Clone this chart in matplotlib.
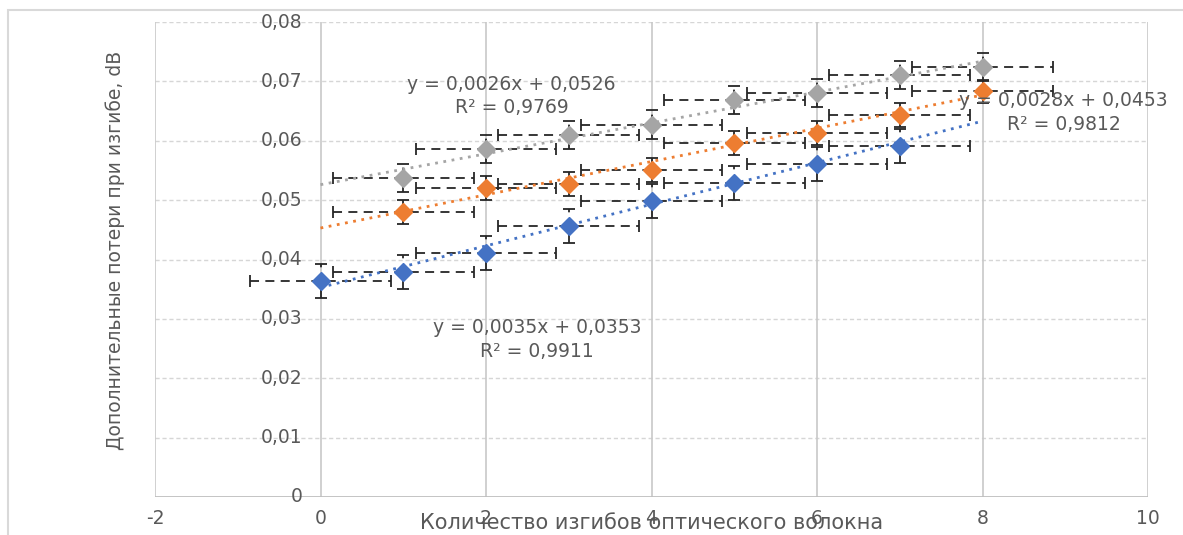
import numpy as np
import matplotlib
matplotlib.use("Agg")
import matplotlib.pyplot as plt
from matplotlib.patches import Rectangle

# ---- data ----
x_blue = [0, 1, 2, 3, 4, 5, 6, 7]
y_blue = [0.0364, 0.0379, 0.0411, 0.0456, 0.0499, 0.0529, 0.0561, 0.0591]
x_orange = [1, 2, 3, 4, 5, 6, 7, 8]
y_orange = [0.0480, 0.0520, 0.0527, 0.0551, 0.0596, 0.0613, 0.0643, 0.0683]
x_gray = [1, 2, 3, 4, 5, 6, 7, 8]
y_gray = [0.0537, 0.0586, 0.0610, 0.0627, 0.0669, 0.0680, 0.0711, 0.0724]

xerr_val = 0.85
yerr_blue = 0.0029
yerr_orange = 0.0020
yerr_gray = 0.0024

slopes = [0.0035, 0.0028, 0.0026]
intercepts = [0.0353, 0.0453, 0.0526]
trend_x = [0, 8]
eq_texts = ["y = 0,0035x + 0,0353\nR² = 0,9911",
            "y = 0,0028x + 0,0453\nR² = 0,9812",
            "y = 0,0026x + 0,0526\nR² = 0,9769"]

xticks = [-2, 0, 2, 4, 6, 8, 10]
yticks = [0, 0.01, 0.02, 0.03, 0.04, 0.05, 0.06, 0.07, 0.08]
ytick_labels = ["0", "0,01", "0,02", "0,03", "0,04", "0,05", "0,06", "0,07", "0,08"]
xlabel = "Количество изгибов оптического волокна"
ylabel = "Дополнительные потери при изгибе, dB"

colors = ["#4472C4", "#ED7D31", "#A5A5A5"]
txt_color = "#595959"

plt.rcParams['font.family'] = ['DejaVu Sans']

W, H = 1183, 535
fig = plt.figure(figsize=(W / 100, H / 100), dpi=100)
ax = fig.add_axes([155 / W, 1 - 497 / H, (1148 - 155) / W, (497 - 22) / H])

# outer chart frame
fig.patches.append(Rectangle((8 / W, -0.05), 1.1, 1 - 10 / H + 0.05, transform=fig.transFigure,
                             fill=False, edgecolor="#d9d9d9", linewidth=1.5, zorder=0))

ax.set_xlim(-2, 10)
ax.set_ylim(0, 0.08)

# grid
for yv in yticks[1:]:
    ax.axhline(yv, color="#d6d6d6", linestyle=(0, (3, 2)), linewidth=1.0, zorder=0)
for xv in xticks:
    ax.axvline(xv, color="#c8c8c8", linestyle="-", linewidth=1.2, zorder=0)
ax.axhline(0, color="#bfbfbf", linewidth=1.3, zorder=1)

for s in ax.spines.values():
    s.set_visible(False)

ax.set_xticks(xticks)
ax.set_xticklabels([str(v) for v in xticks])
ax.set_yticks(yticks)
ax.set_yticklabels([])
ax.tick_params(axis='both', length=0, labelsize=13.5, colors=txt_color)
ax.tick_params(axis='x', pad=9)

# y tick labels next to the axis at x = 0 (Excel crossing)
for yv, lab in zip(yticks, ytick_labels):
    ax.text(-0.22, yv, lab, ha="right", va="center", fontsize=13.5, color=txt_color)

series = [(x_blue, y_blue, yerr_blue), (x_orange, y_orange, yerr_orange), (x_gray, y_gray, yerr_gray)]
tx = np.array(trend_x, dtype=float)
for (xs, ys, ye), c, m, b in zip(series, colors, slopes, intercepts):
    eb = ax.errorbar(xs, ys, xerr=xerr_val, yerr=ye, fmt="none", ecolor="#262626",
                     elinewidth=1.3, capsize=4.5, capthick=1.3, zorder=3)
    for lc in eb[2]:
        lc.set_linestyle((0, (5, 3.5)))
    ax.plot(tx, m * tx + b, linestyle=(0, (1, 2)), color=c, linewidth=2.0, zorder=4)
    ax.plot(xs, ys, linestyle="none", marker="D", markersize=9, color=c,
            markeredgecolor=c, zorder=5)

# trendline equations
ax.text(2.62, 0.0265, eq_texts[0], ha="center", va="center", fontsize=13.5,
        color=txt_color, linespacing=1.3, zorder=6)
ax.text(8.98, 0.0648, eq_texts[1], ha="center", va="center", fontsize=13.5,
        color=txt_color, linespacing=1.3, zorder=6)
ax.text(2.31, 0.0675, eq_texts[2], ha="center", va="center", fontsize=13.5,
        color=txt_color, linespacing=1.3, zorder=6)

# axis titles
ax.text(4, -0.0043, xlabel, ha="center", va="center", fontsize=15, color=txt_color)
fig.text(115 / W, 1 - 250 / H, ylabel, rotation=90, ha="center", va="center",
         fontsize=13.5, color=txt_color)

fig.savefig("out.png", dpi=100, facecolor="white")
